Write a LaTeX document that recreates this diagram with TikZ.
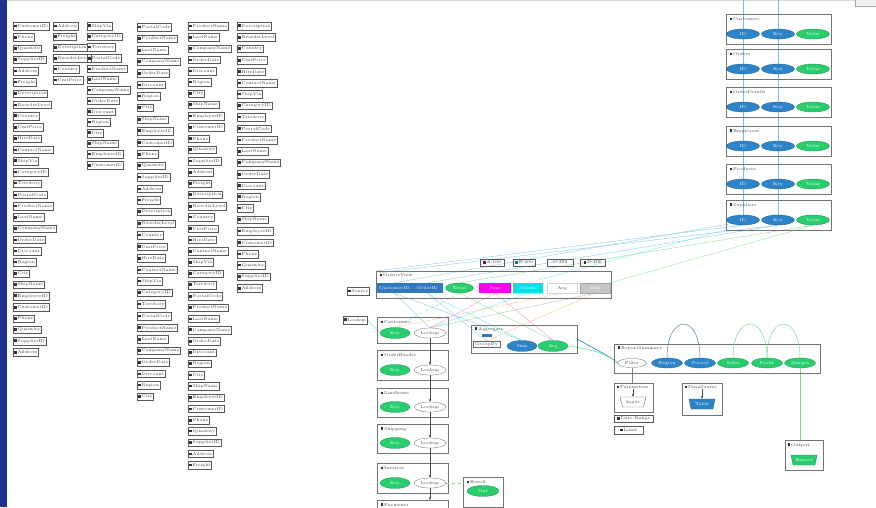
\documentclass[tikz,border=0pt]{standalone}
\usetikzlibrary{shapes.geometric,backgrounds,arrows.meta}
\definecolor{bandblue}{RGB}{28,48,140}
\definecolor{eblue}{RGB}{45,132,200}
\definecolor{egreen}{RGB}{40,205,110}
\definecolor{rblue}{RGB}{50,120,190}
\definecolor{rmag}{RGB}{250,0,240}
\definecolor{rcyan}{RGB}{0,225,235}
\definecolor{lblue}{RGB}{120,190,235}
\definecolor{lgreen}{RGB}{120,220,140}
\newcommand{\myicon}{\textcolor{black!80}{\rule{2.6pt}{2.6pt}}\hspace{0.9pt}}
\newcommand{\lblof}[1]{\ifcase#1 CustomerID\or CompanyName\or ContactName\or Address\or City\or PostalCode\or Country\or Phone\or OrderDate\or ShipVia\or Freight\or ShipName\or ProductName\or UnitPrice\or Quantity\or Discount\or CategoryID\or Description\or EmployeeID\or LastName\or HireDate\or SupplierID\or Region\or Territory\or ReorderLevel\fi}
\tikzset{
 tiny/.style={font=\fontsize{4.2}{4.6}\selectfont},
 li/.style={draw=black!65, line width=0.45pt, minimum height=7.5pt, inner xsep=1pt, inner ysep=0.6pt, anchor=west, tiny, text=black!75},
 grp/.style={draw=black!55, line width=0.6pt, anchor=north west},
 ebl/.style={ellipse, fill=eblue, draw=eblue!70!black, line width=0.3pt, minimum width=33pt, minimum height=10pt, inner sep=0pt, tiny, text=white},
 egr/.style={ebl, fill=egreen, draw=egreen!70!black},
 ewh/.style={ebl, fill=white, draw=black!60, text=black!70},
 rbox/.style={rectangle, minimum height=10pt, inner sep=0pt, tiny, text=white},
 ttl/.style={anchor=west, tiny, text=black!75, inner sep=0.5pt},
 trap/.style={trapezium, trapezium angle=68, trapezium stretches=true, shape border rotate=180, minimum width=26pt, minimum height=10pt, inner sep=0.3pt, tiny},
 lnk/.style={line width=0.5pt, opacity=0.7},
 arr/.style={-{Stealth[length=3pt,width=2.5pt]}, black!70, line width=0.7pt}
}
\newcommand{\mkcol}[6]{\foreach \i in {0,...,#4}{\pgfmathtruncatemacro\k{mod(\i*7+#5,25)}\pgfmathsetmacro\yy{#3+\i*#6}\node[li] (#1-\i) at (#2,\yy) {\myicon\lblof{\k}};}}
\begin{document}
\begin{tikzpicture}[x=1pt,y=-1pt]
\clip (0,0) rectangle (876,507);
\node[draw=gray!70, fill=gray!10, anchor=north west, minimum width=22pt, minimum height=6pt] (TR) at (855,-1) {};

% left lists
\mkcol{ca}{13}{26}{29}{0}{11.25}
\mkcol{cb}{53}{26}{5}{3}{10.8}
\mkcol{cc}{87}{26}{13}{9}{10.7}
\mkcol{cd}{137}{27}{32}{5}{11.56}
\mkcol{ce}{188}{26}{39}{12}{11.26}
\mkcol{cf}{237}{26}{23}{17}{11.4}

% right top stack
\foreach \t/\n [count=\k] in {14/Customers,49/Orders,87/OrderDetails,126/Employees,164/Products,200/Suppliers} {
 \node[grp, minimum width=105pt, minimum height=30pt] (S\k) at (726,\t) {};
 \node[ttl] (S\k t) at (729,\t+5) {\myicon \n};
 \node[ebl] (S\k a) at (743,\t+20) {ID};
 \node[ebl] (S\k b) at (778,\t+20) {Key};
 \node[egr] (S\k c) at (813,\t+20) {Value};
}
\coordinate (VA) at (743,0);
\coordinate (VB) at (778,0);

% row box
\node[grp, minimum width=235pt, minimum height=27pt] (R) at (376,271) {};
\node[ttl] (Rt) at (379,275) {\myicon OrdersView};
\node[rbox, fill=rblue, minimum width=35pt] (Ra) at (394.5,288) {CustomerID};
\node[rbox, fill=rblue, minimum width=31pt] (Rb) at (427.5,288) {OrderID};
\node[egr, minimum width=28pt] (Rc) at (459.5,288) {Total};
\node[rbox, fill=rmag, minimum width=32pt] (Rd) at (495,288) {Sum};
\node[rbox, fill=rcyan, minimum width=30pt] (Re) at (528,288) {Count};
\node[rbox, fill=white, draw=gray!35, minimum width=30pt, text=black!70] (Rf) at (562,288) {Avg};
\node[rbox, fill=gray!45, draw=gray!70, minimum width=30pt] (Rg) at (595,288) {Max};
\node[li, minimum width=24pt] (T1) at (480,262.5) {\textcolor{violet}{\rule{2.6pt}{2.6pt}}\,A:100};
\node[li, minimum width=22pt] (T2) at (513,262.5) {\textcolor{teal}{\rule{2.6pt}{2.6pt}}\,B:200};
\node[li, minimum width=26pt] (T3) at (547,262.5) {C:300};
\node[li, minimum width=25pt] (T4) at (580,262.5) {\myicon D:400};
\node[li] (L1) at (347,291) {\myicon Source};

% left stack
\foreach \t/\b/\n [count=\k] in {317/343/Customers,350/380/OrderHeader,388/417/LineItems,424/453/Shipping,463/493/Invoices} {
 \node[grp, minimum width=71pt, minimum height=\b-\t] (B\k) at (377,\t) {};
 \node[ttl] (B\k t) at (380,\t+5) {\myicon \n};
 \node[egr, minimum width=30pt, minimum height=11pt] (B\k g) at (395,\b-10) {Key};
 \node[ewh, minimum width=32pt] (B\k w) at (430,\b-10) {Lookup};
}
\node[grp, minimum width=71pt, minimum height=20pt] (B6) at (377,500) {};
\node[ttl] (B6t) at (380,505) {\myicon Payments};
\foreach \a/\b in {1/2,2/3,3/4,4/5} \draw[arr] (B\a w.south) -- (B\b w.north);
\draw[arr] (B5w.south) -- (B6.north -| B5w.south);
\node[li] (L2) at (343,320) {\myicon Lookup};
\node[grp, minimum width=40pt, minimum height=30pt] (K) at (463,477) {};
\node[ttl] (Kt) at (466,482) {\myicon Result};
\node[egr, minimum width=32pt, minimum height=11pt] (Kg) at (483,491) {Out};
\draw[lgreen, dashed, line width=0.6pt] (B5w.east) -- (K.west |- B5w.east);

% middle group
\node[grp, minimum width=106pt, minimum height=28pt] (M) at (471,325) {};
\node[ttl] (Mt) at (474,329) {\myicon Aggregate};
\node[fill=rblue, minimum width=10pt, minimum height=2.5pt, inner sep=0pt] (Mi) at (487,335.5) {};
\node[ewh, rectangle, minimum width=27pt, minimum height=6pt] (Mw) at (486.5,344) {GroupBy};
\node[ebl, minimum width=30pt, minimum height=11pt] (Mb) at (522,346) {Sum};
\node[egr, minimum width=30pt, minimum height=11pt] (Mg) at (553,346) {Avg};

% right group
\node[grp, minimum width=206pt, minimum height=29pt] (G2) at (614,344) {};
\node[ttl] (G2t) at (617,348) {\myicon ReportSummary};
\node[ewh, minimum width=29pt, minimum height=9pt] (E0) at (632,363) {Filter};
\node[ebl, minimum width=31pt] (E1) at (667,363) {Region};
\node[ebl, minimum width=31pt] (E2) at (700,363) {Period};
\node[egr, minimum width=31pt] (E3) at (733,363) {Sales};
\node[egr, minimum width=31pt] (E4) at (767,363) {Profit};
\node[egr, minimum width=31pt] (E5) at (800,363) {Margin};

% lower right boxes
\node[grp, minimum width=39pt, minimum height=29pt] (Q1) at (614,383) {};
\node[ttl] (Q1t) at (616,387) {\myicon Parameters};
\node[trap, draw=black!60, fill=white, text=black!70] (Q1b) at (633,402) {Input};
\node[li, minimum width=39pt] (Q2) at (614,418.5) {\myicon Date Range};
\node[li, minimum width=29pt] (Q3) at (614,430) {\myicon Limit};
\node[grp, minimum width=40pt, minimum height=32pt] (P) at (682,383) {};
\node[ttl] (Pt) at (684,387) {\myicon DataSource};
\node[trap, fill=eblue, draw=eblue!70!black, text=white] (Pb) at (702,404) {Table};
\node[grp, minimum width=38pt, minimum height=30pt] (G) at (785,440) {};
\node[ttl] (Gt) at (787,445) {\myicon Output};
\node[trap, fill=egreen, draw=egreen!70!black, text=white] (Gb) at (804,460) {Export};

\begin{scope}[on background layer]
 \fill[white] (0,0) rectangle (876,507);
 \fill[bandblue] (0,0) rectangle (7,507);
 \draw[gray!30] (7,0.6) -- (876,0.6);
 \draw[lblue, line width=0.6pt] (VA) -- (S6a.center);
 \draw[lblue, line width=0.6pt] (VB) -- (S6b.center);
 % fan lines
 \draw[lnk, lblue] (S6a.south) -- (R.north west);
 \draw[lnk, lblue] (S6b.south) -- (Rt.north west);
 \draw[lnk, lblue] (S6a.south west) -- (Ra.north);
 \draw[lnk, lblue] (S6b.south) -- (Rb.north);
 \draw[lnk, rcyan!60] (S6a.south) -- (Re.north);
 \draw[lnk, lgreen] (S6c.south) -- (Rc.north);
 \draw[lnk, lgreen] (S6c.south) -- (Rg.north east);
 % crossing lines below row
 \draw[lnk, lblue] (Ra.south) -- (B1w.north);
 \draw[lnk, lblue] (Ra.south) -- (Mb.north);
 \draw[lnk, rcyan!70] (Rb.south) -- (Mb.north);
 \draw[lnk, rcyan!70] (Re.south) -- (B1w.north);
 \draw[lnk, rmag!50] (Rd.south) -- (B1w.north);
 \draw[lnk, rmag!50] (Rd.south) -- (Mg.north);
 \draw[lnk, lgreen] (Rc.south) -- (Mg.north);
 \draw[lnk, lgreen, dashed] (Rc.south) -- (B1g.north);
 \draw[lnk, gray!60] (Rg.south) -- (B1w.north);
 \draw[lnk, orange!50] (Rg.south) -- (Mw.north);
 \draw[lnk, orange!50] (Rf.south) -- (B1g.north);
 \draw[lnk, lblue] (Rb.south) -- (Mw.north);
 \draw[lnk, lgreen] (L2.east) -- (B1g.west);
 % middle to right group
 \draw[rcyan!60!blue, line width=0.6pt] (M.east) .. controls (600,352) and (610,356) .. (E0.west);
 \draw[lgreen, line width=0.6pt] (Mg.east) .. controls (600,350) and (612,358) .. (E0.west);
 \draw[black!50, line width=0.4pt] (E0.south) -- (Q1.north -| E0.south);
 \draw[lgreen, line width=0.6pt] (E5.south) -- (G.north -| E5.south);
\end{scope}
% arcs
\draw[eblue!60!gray, line width=0.5pt] (E1.north) .. controls +(0,-45) and +(0,-45) .. (E2.north);
\draw[lgreen, line width=0.5pt] (E3.north) .. controls +(0,-45) and +(0,-45) .. (E4.north);
\draw[lgreen, line width=0.5pt] (E4.north) .. controls +(0,-45) and +(0,-45) .. (E5.north);
\draw[arr, line width=0.4pt] (Q1t.south -| Q1b.north) -- (Q1b.north);
\draw[arr, line width=0.4pt] (Pt.south -| Pb.north) -- (Pb.north);
\end{tikzpicture}
\end{document}
